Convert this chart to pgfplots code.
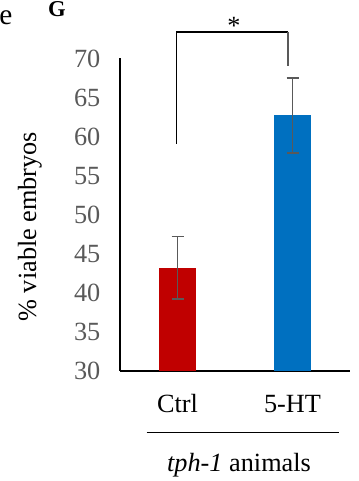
\documentclass[border=0pt]{standalone}
\usepackage{fontspec}
\setmainfont{Liberation Serif}
\usepackage{pgfplots}
\pgfplotsset{compat=1.18}
\definecolor{barred}{HTML}{C00000}
\definecolor{barblue}{HTML}{0070C0}
\definecolor{errgray}{HTML}{595959}
\newcommand{\bigf}{\fontsize{19.7}{23.6}\selectfont}
\begin{document}
\begin{tikzpicture}
\useasboundingbox (0pt,0pt) rectangle (269.25pt,360.75pt);
\begin{axis}[
  at={(90pt,82.5pt)}, anchor=south west,
  scale only axis, width=172.5pt, height=234.4pt,
  xmin=-0.5, xmax=1.5, ymin=30, ymax=70,
  axis lines*=left,
  axis line style={black, line width=1pt},
  ytick={30,35,...,70},
  xtick={0,1}, xticklabels={Ctrl,5-HT},
  major tick length=0pt,
  /pgf/number format/assume math mode=true,
  tick label style={font=\bigf},
  yticklabel style={text=errgray, anchor=east, xshift=-11.25pt},
  xticklabel style={text=black, anchor=base, yshift=-30.75pt},
]
\addplot[ybar, bar width=27.75pt, bar shift=0pt, fill=barred, draw=none,
  error bars/.cd, y dir=both, y explicit,
  error bar style={errgray, line width=1pt},
  error mark options={errgray, line width=1pt, mark size=4.5pt, rotate=90}]
  coordinates {(0,43.2) +- (0,4.0)};
\addplot[ybar, bar width=27.75pt, bar shift=0pt, fill=barblue, draw=none,
  error bars/.cd, y dir=both, y explicit,
  error bar style={errgray, line width=1pt},
  error mark options={errgray, line width=1pt, mark size=4.5pt, rotate=90}]
  coordinates {(1,62.7) +- (0,4.8)};
\end{axis}
\begin{scope}[x=0.75pt,y=0.75pt]
% significance bracket
\draw[black, line width=0.8pt] (176.7,337) -- (176.7,449) -- (288,449);
\draw[errgray, line width=0.9pt] (288,449) -- (288,415.3);
\node[font=\bigf, anchor=base, inner sep=0pt] at (234,446) {*};
% y label
\node[font=\bigf, rotate=90, anchor=base, inner sep=0pt] at (36,254.3) {\% viable embryos};
% group line and label
\draw[black, line width=0.8pt] (146.7,48.3) -- (339.3,48.3);
\node[font=\bigf, anchor=base, inner sep=0pt] at (239,9) {\textit{tph-1} animals};
% panel letters
\node[font=\fontsize{22}{26}\selectfont, anchor=base west, inner sep=0pt] at (-1,456) {e};
\node[font=\fontsize{17}{20}\selectfont\bfseries, anchor=base, inner sep=0pt] at (57,464) {G};
\end{scope}
\end{tikzpicture}
\end{document}
